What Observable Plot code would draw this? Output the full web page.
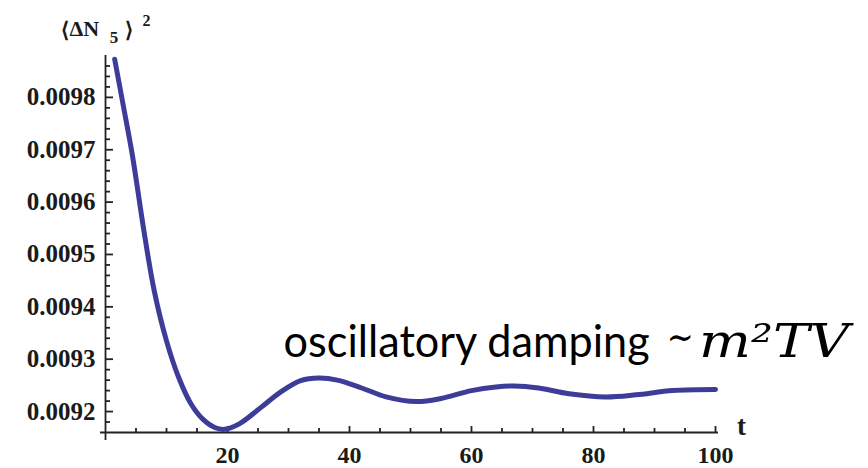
<!DOCTYPE html>
<html>
<head>
<meta charset="utf-8">
<script src="https://cdn.jsdelivr.net/npm/d3@7"></script>
<script src="https://cdn.jsdelivr.net/npm/@observablehq/plot@0.6"></script>
<style>
  html, body { margin: 0; padding: 0; background: #fff; }
</style>
</head>
<body>
<div id="chart"></div>
<script>
// ---- data ----
const tValues = [1.5, 3, 4.4, 6.3, 8, 10, 12, 14, 16, 18, 19.5, 22, 25.5, 28.8, 32, 35, 38, 42, 46, 51, 55, 60, 64, 67, 71, 76, 82, 87, 93, 100];
const nValues = [0.009873, 0.009779, 0.00969, 0.009545, 0.00943, 0.009335, 0.009265, 0.009215, 0.009185, 0.009169, 0.009166, 0.009177, 0.009208, 0.009238, 0.009259, 0.009264, 0.00926, 0.009245, 0.009228, 0.009219, 0.009225, 0.00924, 0.009247, 0.009249, 0.009245, 0.009234, 0.009228, 0.009232, 0.00924, 0.009242];

const yMajorTicks = [0.0092, 0.0093, 0.0094, 0.0095, 0.0096, 0.0097, 0.0098];
const yTickLabels = ["0.0092", "0.0093", "0.0094", "0.0095", "0.0096", "0.0097", "0.0098"];
const yMinorTicks = [0.00918, 0.00922, 0.00924, 0.00926, 0.00928, 0.00932, 0.00934, 0.00936, 0.00938,
  0.00942, 0.00944, 0.00946, 0.00948, 0.00952, 0.00954, 0.00956, 0.00958, 0.00962, 0.00964, 0.00966, 0.00968,
  0.00972, 0.00974, 0.00976, 0.00978, 0.00982, 0.00984, 0.00986];
const xMajorTicks = [20, 40, 60, 80, 100];
const xTickLabels = ["20", "40", "60", "80", "100"];
const xMinorTicks = [5, 10, 15, 25, 30, 35, 45, 50, 55, 65, 70, 75, 85, 90, 95];

const xAxisLabel = "t";
const yAxisLabelParts = ["⟨", "ΔN", "5", "⟩", "2"];
const annotationText = ["oscillatory damping", "∼", "m²TV"];

// ---- tables built from the arrays ----
const curve = tValues.map((t, i) => ({t, v: nValues[i]}));
const yLabelTable = yMajorTicks.map((v, i) => ({v, label: yTickLabels[i]}));
const xLabelTable = xMajorTicks.map((t, i) => ({t, label: xTickLabels[i]}));

const W = 868, H = 468, ML = 105, MR = 153, MT = 55, MB = 36;
const frameW = W - ML - MR, frameH = H - MT - MB;
const axisColor = "#222";
const serif = "'Liberation Serif', 'Times New Roman', serif";

const chart = Plot.plot({
  width: W, height: H,
  marginLeft: ML, marginRight: MR, marginTop: MT, marginBottom: MB,
  x: {domain: [0, 100], axis: null},
  y: {domain: [0.00916, 0.00988], axis: null},
  style: {background: "#fff", fontFamily: serif, overflow: "visible"},
  marks: [
    // axes lines (Mathematica style, crossing at the lower-left)
    Plot.ruleX([0], {insetBottom: -8, stroke: axisColor, strokeWidth: 1.8}),
    Plot.ruleY([0.00916], {insetLeft: -5, insetRight: -3, stroke: axisColor, strokeWidth: 1.8}),
    // inward ticks
    Plot.tickY(yMinorTicks, {insetRight: frameW - 5, stroke: axisColor, strokeWidth: 1.8}),
    Plot.tickY(yMajorTicks, {insetRight: frameW - 8, stroke: axisColor, strokeWidth: 1.8}),
    Plot.tickX(xMinorTicks, {insetTop: frameH - 4, stroke: axisColor, strokeWidth: 1.8}),
    Plot.tickX(xMajorTicks, {insetTop: frameH - 6, stroke: axisColor, strokeWidth: 1.8}),
    // the curve
    Plot.line(curve, {x: "t", y: "v", stroke: "#3d3d99", strokeWidth: 5, curve: "catmull-rom"}),
    // tick labels
    Plot.text(yLabelTable, {y: "v", text: "label", frameAnchor: "left", dx: -10, textAnchor: "end",
      fontSize: 25, fontWeight: "bold", fill: "#1a1a1a", fontFamily: serif}),
    Plot.text(xLabelTable, {x: "t", text: "label", frameAnchor: "bottom", dy: 13, lineAnchor: "top",
      fontSize: 24, fontWeight: "bold", fill: "#1a1a1a", fontFamily: serif}),
    // axis labels
    Plot.text([xAxisLabel], {frameAnchor: "bottom-right", dx: 26, dy: 2, lineAnchor: "bottom", textAnchor: "middle",
      fontSize: 27, fontWeight: "bold", fill: "#1a1a1a", fontFamily: serif}),
    Plot.text([yAxisLabelParts[0]], {frameAnchor: "top-left", dx: -41, dy: -19, lineAnchor: "bottom", textAnchor: "middle",
      fontSize: 21, fontWeight: "bold", fill: "#1a1a1a", fontFamily: serif}),
    Plot.text([yAxisLabelParts[1]], {frameAnchor: "top-left", dx: -36, dy: -20, lineAnchor: "bottom", textAnchor: "start",
      fontSize: 22, fontWeight: "bold", fill: "#1a1a1a", fontFamily: serif}),
    Plot.text([yAxisLabelParts[2]], {frameAnchor: "top-left", dx: 8.5, dy: -13, lineAnchor: "bottom", textAnchor: "middle",
      fontSize: 17, fontWeight: "bold", fill: "#1a1a1a", fontFamily: serif}),
    Plot.text([yAxisLabelParts[3]], {frameAnchor: "top-left", dx: 23, dy: -19, lineAnchor: "bottom", textAnchor: "middle",
      fontSize: 21, fontWeight: "bold", fill: "#1a1a1a", fontFamily: serif}),
    Plot.text([yAxisLabelParts[4]], {frameAnchor: "top-left", dx: 41, dy: -30, lineAnchor: "bottom", textAnchor: "middle",
      fontSize: 16, fontWeight: "bold", fill: "#1a1a1a", fontFamily: serif}),
    // annotation
    Plot.text([annotationText[0]], {x: 29.2, y: 0.009305, lineAnchor: "bottom", textAnchor: "start",
      fontSize: 44, fontFamily: "Lato, 'Open Sans', sans-serif", fill: "#000", className: "ann-osc"}),
    Plot.text([annotationText[1]], {x: 92.0, y: 0.009305, dy: -7, lineAnchor: "bottom", textAnchor: "start",
      fontSize: 38, fontFamily: "'DejaVu Serif', serif", fill: "#000", className: "ann-tilde"}),
    Plot.text([annotationText[2]], {x: 97.3, y: 0.009305, lineAnchor: "bottom", textAnchor: "start",
      fontSize: 46, fontStyle: "italic", fontFamily: "'DejaVu Serif', serif", fill: "#000", className: "ann-m"})
  ]
});

document.getElementById("chart").appendChild(chart);
// fit annotation widths to the reference extents
d3.select(chart).selectAll("g.ann-osc text").attr("textLength", 366).attr("lengthAdjust", "spacingAndGlyphs");
d3.select(chart).selectAll("g.ann-tilde text").attr("textLength", 27).attr("lengthAdjust", "spacingAndGlyphs");
d3.select(chart).selectAll("g.ann-m text").attr("textLength", 150).attr("lengthAdjust", "spacingAndGlyphs");
</script>
</body>
</html>
